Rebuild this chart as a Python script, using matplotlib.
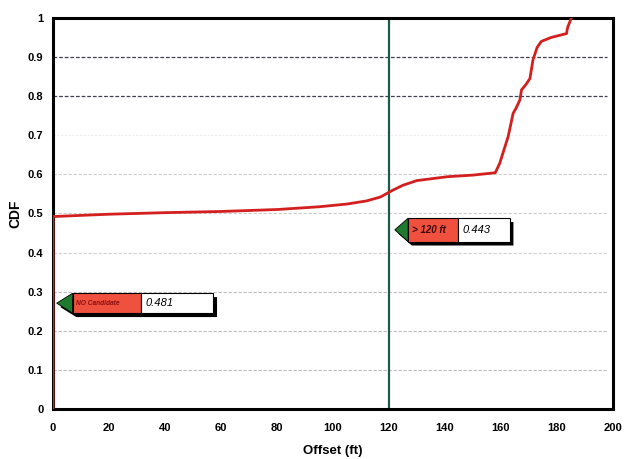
import matplotlib
matplotlib.use("Agg")
import matplotlib.pyplot as plt
from matplotlib.patches import Polygon, Rectangle

plt.rcParams['font.family'] = ['Liberation Sans', 'DejaVu Sans']

# ---- data ----
offset_ft = [0, 0, 10, 20, 40, 60, 80, 95, 105, 112, 117, 121, 125, 130, 141, 150,
             158, 159.6, 161, 162.6, 164.4, 165.5, 166.8, 167.4, 169, 170.4, 171.5,
             173, 174.5, 178, 183.5, 183.7, 184, 185.2]
cdf = [0, 0.492, 0.495, 0.498, 0.502, 0.505, 0.510, 0.517, 0.524, 0.532, 0.542,
       0.558, 0.572, 0.584, 0.594, 0.598, 0.604, 0.628, 0.66, 0.696, 0.756, 0.77,
       0.79, 0.816, 0.83, 0.845, 0.893, 0.925, 0.94, 0.95, 0.96, 0.97, 0.978, 1.0]
threshold_ft = 120
x_ticks = [0, 20, 40, 60, 80, 100, 120, 140, 160, 180, 200]
y_ticks = [0, 0.1, 0.2, 0.3, 0.4, 0.5, 0.6, 0.7, 0.8, 0.9, 1.0]
y_tick_labels = ["0", "0.1", "0.2", "0.3", "0.4", "0.5", "0.6", "0.7", "0.8", "0.9", "1"]
callout_labels = ["NO Candidate", "> 120 ft"]
callout_values = ["0.481", "0.443"]

fig = plt.figure(figsize=(6.24, 4.59), dpi=100)
ax = fig.add_axes([0.085, 0.109, 0.897, 0.852])
ax.set_xlim(0, 200)
ax.set_ylim(0, 1)

# gridlines
grid_style = {0.1: ('#bdbdbd', 0.8), 0.2: ('#bdbdbd', 0.8), 0.3: ('#bdbdbd', 0.8),
              0.4: ('#d2d2d2', 0.8), 0.5: ('#cccccc', 0.8), 0.6: ('#cccccc', 0.8),
              0.7: ('#ececec', 0.6), 0.8: ('#404050', 0.9), 0.9: ('#404050', 0.9)}
for yv, (c, lw) in grid_style.items():
    ax.plot([0, 198], [yv, yv], color=c, lw=lw, ls=(0, (3, 1.5)), zorder=1)

ax.axvline(threshold_ft, color='#1d5a4a', lw=1.6, zorder=2)
ax.plot(offset_ft, cdf, color='#d41f1f', lw=2.0, zorder=3, solid_capstyle='round')

ax.set_xticks(x_ticks)
ax.set_yticks(y_ticks)
ax.set_yticklabels(y_tick_labels)
ax.tick_params(length=0, labelsize=8)
ax.tick_params(axis='x', pad=10)
ax.tick_params(axis='y', pad=7)
for lab in ax.get_xticklabels() + ax.get_yticklabels():
    lab.set_fontweight('bold')
for s in ax.spines.values():
    s.set_linewidth(2.2)
    s.set_color('black')
ax.set_xlabel("Offset (ft)", fontsize=9.5, fontweight='bold', labelpad=9)
ax.set_ylabel("CDF", fontsize=10, fontweight='bold', labelpad=4)


def callout(tip_x, gr_x, rw_x, right_x, y_bot, y_top, label, value, label_size, label_color):
    ymid = (y_bot + y_top) / 2
    dx, dy = 1.3, -0.01
    # shadow
    ax.add_patch(Polygon([(tip_x + dx, ymid + dy), (gr_x + dx, y_top + dy), (right_x + dx, y_top + dy),
                          (right_x + dx, y_bot + dy), (gr_x + dx, y_bot + dy)],
                         closed=True, facecolor='black', edgecolor='none', zorder=5))
    ax.add_patch(Polygon([(tip_x, ymid), (gr_x, y_top), (gr_x, y_bot)], closed=True,
                         facecolor='#1e7a2e', edgecolor='black', lw=0.6, zorder=6))
    ax.add_patch(Rectangle((gr_x, y_bot), rw_x - gr_x, y_top - y_bot,
                           facecolor='#f0503e', edgecolor='black', lw=0.8, zorder=6))
    ax.add_patch(Rectangle((rw_x, y_bot), right_x - rw_x, y_top - y_bot,
                           facecolor='white', edgecolor='black', lw=0.8, zorder=6))
    ax.text(gr_x + 1.2, ymid, label, fontsize=label_size, fontstyle='italic', fontweight='bold',
            color=label_color, va='center', ha='left', zorder=7)
    ax.text(rw_x + 1.5, ymid, value, fontsize=8, fontstyle='italic', color='black',
            va='center', ha='left', zorder=7)


callout(1.3, 7.0, 31.5, 57.3, 0.245, 0.296, callout_labels[0], callout_values[0], 4.8, '#8a1010')
callout(122.1, 126.9, 144.7, 163.2, 0.428, 0.488, callout_labels[1], callout_values[1], 7, '#3a0a0a')

fig.savefig("out.png", dpi=100, facecolor='white')
